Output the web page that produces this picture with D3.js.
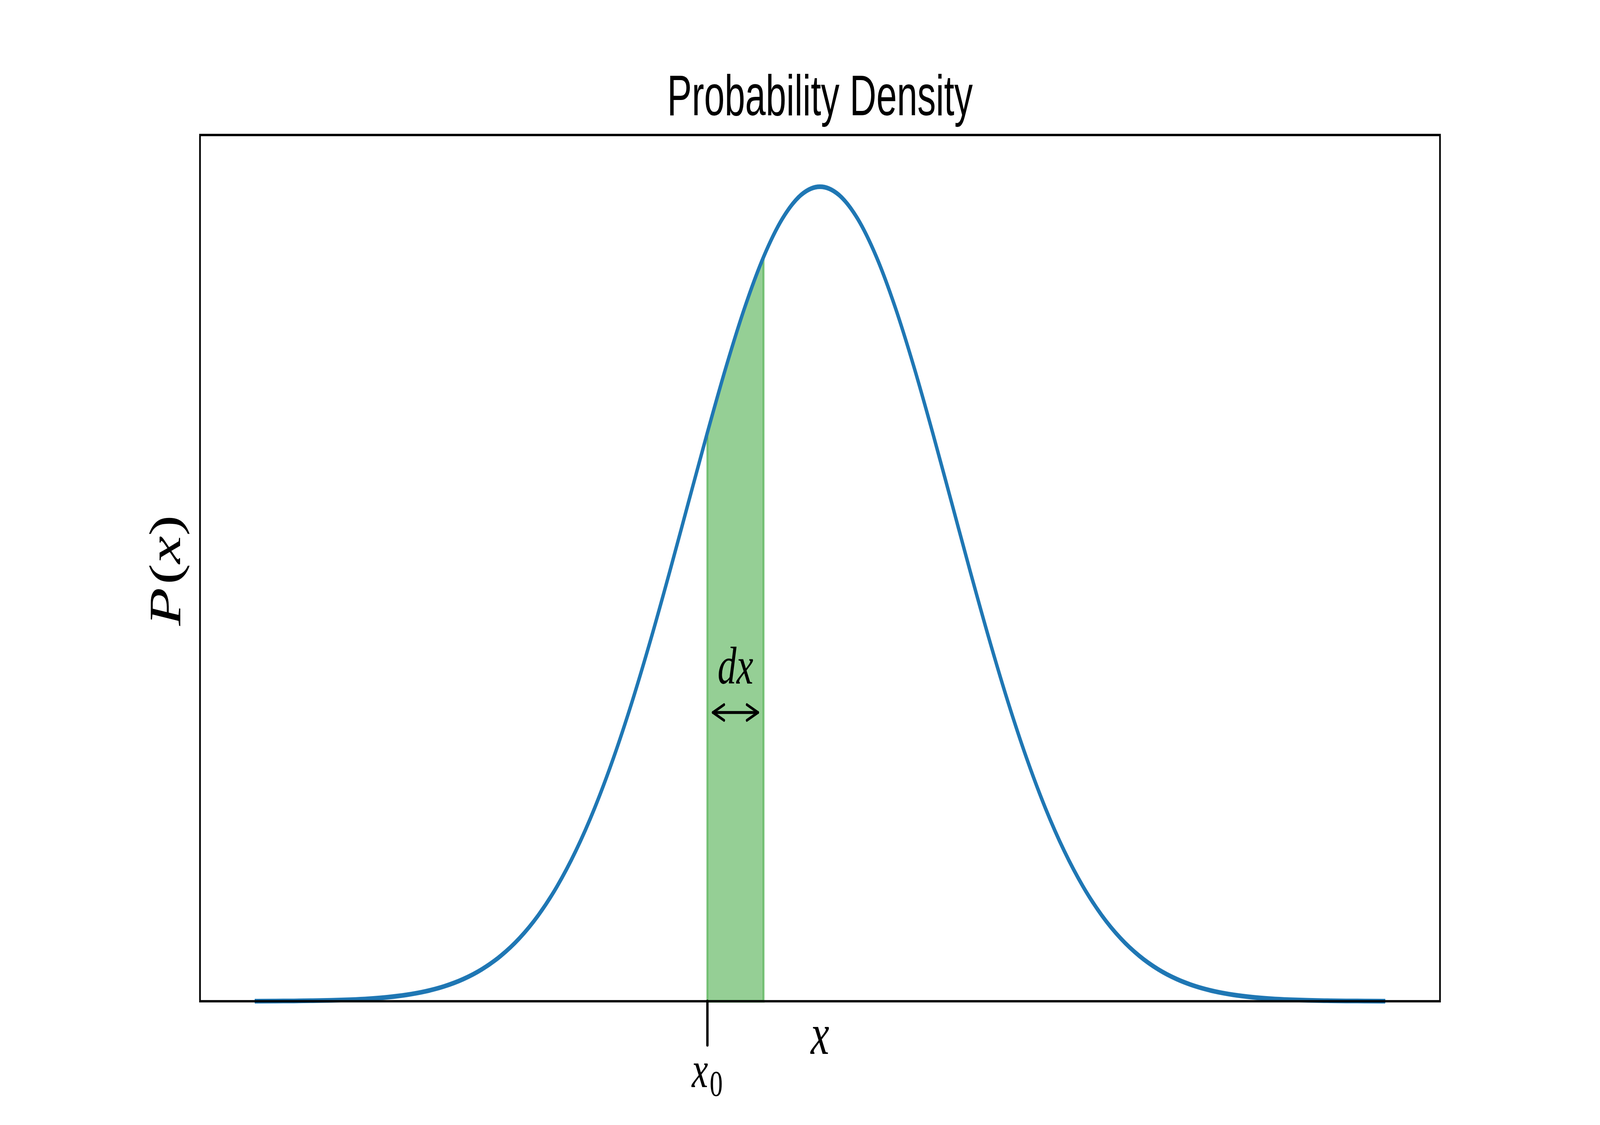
<!DOCTYPE html>
<html>
<head>
<meta charset="utf-8">
<script src="https://cdn.jsdelivr.net/npm/d3@7/dist/d3.min.js"></script>
<style>
  html, body { margin: 0; padding: 0; background: #ffffff; overflow: hidden; width: 100%; height: 100%; }
  svg { display: block; width: 100vw; height: 100vh; }
</style>
</head>
<body>
<svg id="chart"></svg>
<script>
// ---------------- data ----------------
const xSamples = [
  -3.0, -2.9, -2.8, -2.7, -2.6, -2.5, -2.4, -2.3, -2.2, -2.1,
  -2.0, -1.9, -1.8, -1.7, -1.6, -1.5, -1.4, -1.3, -1.2, -1.1,
  -1.0, -0.9, -0.8, -0.7, -0.6, -0.5, -0.4, -0.3, -0.2, -0.1,
   0.0,
   0.1,  0.2,  0.3,  0.4,  0.5,  0.6,  0.7,  0.8,  0.9,  1.0,
   1.1,  1.2,  1.3,  1.4,  1.5,  1.6,  1.7,  1.8,  1.9,  2.0,
   2.1,  2.2,  2.3,  2.4,  2.5,  2.6,  2.7,  2.8,  2.9,  3.0
];
const densityValues = [
  0.00007, 0.00013, 0.00022, 0.00039, 0.00065, 0.00109, 0.00178, 0.00284, 0.00446, 0.00686,
  0.01033, 0.01526, 0.02210, 0.03136, 0.04361, 0.05946, 0.07947, 0.10410, 0.13367, 0.16824,
  0.20755, 0.25098, 0.29749, 0.34564, 0.39362, 0.43939, 0.48077, 0.51563, 0.54207, 0.55858,
  0.56419,
  0.55858, 0.54207, 0.51563, 0.48077, 0.43939, 0.39362, 0.34564, 0.29749, 0.25098, 0.20755,
  0.16824, 0.13367, 0.10410, 0.07947, 0.05946, 0.04361, 0.03136, 0.02210, 0.01526, 0.01033,
  0.00686, 0.00446, 0.00284, 0.00178, 0.00109, 0.00065, 0.00039, 0.00022, 0.00013, 0.00007
];
const xDomain = [-3.3, 3.3];
const yDomain = [0, 0.6];
const shadeRange = [-0.6, -0.3];      // x0 .. x0 + dx
const tickValues = [-0.6];            // x0
const tickLabels = [["x", "0"]];      // x_0
const arrowSpan = [-0.57, -0.33];
const arrowLevel = [0.2];
const dxLabelPos = [-0.45, 0.22];
const titleText = "Probability Density";
const xLabelText = "x";
const yLabelParts = ["P", "(", "x", ")"];
const dxLabelParts = ["d", "x"];

// ---------------- layout (drawn in a 5760 x 2880 coordinate space, stretched to the window) ----------------
const W = 5760, H = 2880;
const plotL = 720, plotR = 5184, plotT = 345.6, plotB = 2563.2;
const mathFont = "'Liberation Serif', 'DejaVu Serif', serif";

const svg = d3.select("#chart")
  .attr("viewBox", `0 0 ${W} ${H}`)
  .attr("preserveAspectRatio", "none");
svg.append("rect").attr("width", W).attr("height", H).attr("fill", "#ffffff");

const xScale = d3.scaleLinear().domain(xDomain).range([plotL, plotR]);
const yScale = d3.scaleLinear().domain(yDomain).range([plotB, plotT]);

const pts = xSamples.map((x, i) => ({ x, y: densityValues[i] }));

// shaded strip
const shadePts = pts.filter(p => p.x >= shadeRange[0] - 1e-9 && p.x <= shadeRange[1] + 1e-9);
const area = d3.area()
  .x(d => xScale(d.x))
  .y0(yScale(0))
  .y1(d => yScale(d.y))
  .curve(d3.curveMonotoneX);
svg.append("path")
  .datum(shadePts)
  .attr("d", area)
  .attr("fill", "#2ca02c").attr("fill-opacity", 0.5)
  .attr("stroke", "#2ca02c").attr("stroke-opacity", 0.5)
  .attr("stroke-width", 7);

// density curve
const line = d3.line()
  .x(d => xScale(d.x))
  .y(d => yScale(d.y))
  .curve(d3.curveMonotoneX);
svg.append("path")
  .datum(pts)
  .attr("d", line)
  .attr("fill", "none")
  .attr("stroke", "#1f77b4")
  .attr("stroke-width", 12)
  .attr("stroke-linecap", "square")
  .attr("stroke-linejoin", "round");

// frame (spines)
svg.append("rect")
  .attr("x", plotL).attr("y", plotT)
  .attr("width", plotR - plotL).attr("height", plotB - plotT)
  .attr("fill", "none").attr("stroke", "#000000").attr("stroke-width", 6)
  .attr("stroke-linejoin", "miter");

// x0 tick
const xAxis = d3.axisBottom(xScale).tickValues(tickValues).tickSizeInner(112).tickSizeOuter(0).tickFormat(() => "");
const gx = svg.append("g").attr("transform", `translate(0,${plotB})`).call(xAxis);
gx.select(".domain").remove();
gx.selectAll(".tick line").attr("stroke", "#000000").attr("stroke-width", 8.5).attr("stroke-linecap", "round");

// x0 tick label
tickValues.forEach((v, i) => {
  const t = svg.append("text")
    .attr("x", xScale(v)).attr("y", 2783)
    .attr("text-anchor", "middle")
    .attr("font-family", mathFont)
    .attr("fill", "#000000");
  t.append("tspan").attr("font-style", "italic").attr("font-size", 132).text(tickLabels[i][0]);
  t.append("tspan").attr("font-size", 94).attr("dy", 22).attr("dx", 6).text(tickLabels[i][1]);
});

// x label
svg.append("text")
  .attr("x", (plotL + plotR) / 2).attr("y", 2698)
  .attr("text-anchor", "middle")
  .attr("font-family", mathFont).attr("font-style", "italic").attr("font-size", 150)
  .attr("fill", "#000000")
  .text(xLabelText);

// y label
const yl = svg.append("text")
  .attr("transform", `translate(648,${(plotT + plotB) / 2 + 6}) rotate(-90)`)
  .attr("text-anchor", "middle")
  .attr("font-family", mathFont).attr("font-size", 160)
  .attr("fill", "#000000");
yLabelParts.forEach((p, i) => {
  yl.append("tspan").attr("font-style", (p === "(" || p === ")") ? "normal" : "italic")
    .attr("dx", i === 1 ? 8 : 0)
    .text(p);
});

// title
svg.append("text")
  .attr("x", (plotL + plotR) / 2).attr("y", 295)
  .attr("text-anchor", "middle")
  .attr("font-family", "'Liberation Sans', Arial, sans-serif").attr("font-size", 146)
  .attr("textLength", 1100).attr("lengthAdjust", "spacingAndGlyphs")
  .attr("fill", "#000000")
  .text(titleText);

// dx label
const dl = svg.append("text")
  .attr("x", xScale(dxLabelPos[0])).attr("y", yScale(dxLabelPos[1]))
  .attr("text-anchor", "middle")
  .attr("font-family", mathFont).attr("font-style", "italic").attr("font-size", 136)
  .attr("fill", "#000000");
dxLabelParts.forEach(p => dl.append("tspan").text(p));

// double arrow
const ax1 = xScale(arrowSpan[0]), ax2 = xScale(arrowSpan[1]), ay = yScale(arrowLevel[0]);
const headBack = 40, headHalf = 20;
const arrowG = svg.append("g")
  .attr("fill", "none").attr("stroke", "#000000").attr("stroke-width", 7.5)
  .attr("stroke-linecap", "round").attr("stroke-linejoin", "round");
arrowG.append("path").attr("d", d3.line()([[ax1, ay], [ax2, ay]]));
arrowG.append("path").attr("d", d3.line()([[ax1 + headBack, ay - headHalf], [ax1, ay], [ax1 + headBack, ay + headHalf]]));
arrowG.append("path").attr("d", d3.line()([[ax2 - headBack, ay - headHalf], [ax2, ay], [ax2 - headBack, ay + headHalf]]));
</script>
</body>
</html>
